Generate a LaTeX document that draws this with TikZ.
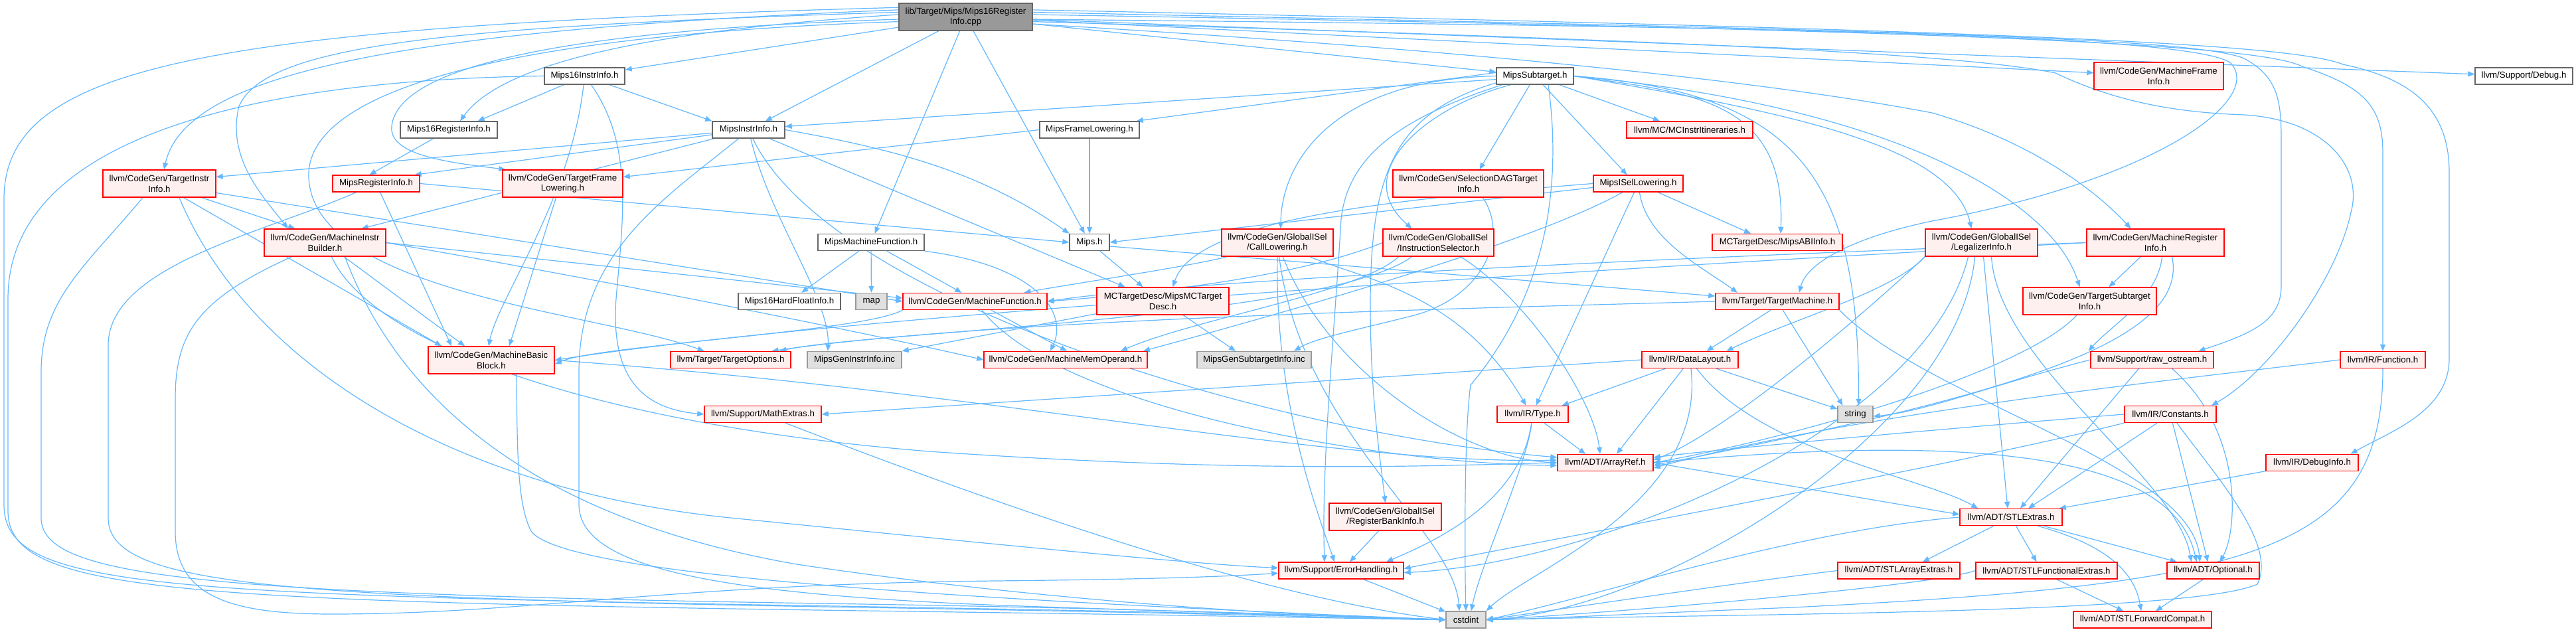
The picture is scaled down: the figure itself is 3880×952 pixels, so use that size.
\documentclass[tikz,border=0pt]{standalone}
\usepackage{fontspec}
\setmainfont{Liberation Sans}
\usetikzlibrary{arrows.meta}
\pgfdeclarelayer{bg}
\pgfsetlayers{bg,main}
\definecolor{edgec}{HTML}{63B8FF}
\definecolor{greyforty}{HTML}{666666}
\definecolor{greysixty}{HTML}{999999}
\definecolor{sysfill}{HTML}{E0E0E0}
\definecolor{pinkfill}{HTML}{FFF0F0}
\definecolor{redline}{HTML}{FF0000}
\newcommand{\dgfont}{\fontsize{13.3pt}{15.5pt}\selectfont}
\tikzset{
  eg/.style={draw=edgec, line width=1.2pt, -{Triangle[length=10pt,width=8pt]}},
  nbase/.style={rectangle, line width=1.4pt, inner sep=0pt, font=\dgfont, align=center, minimum height=25pt},
  ntall/.style={minimum height=41pt},
  nplain/.style={nbase, draw=greyforty, fill=white},
  ntrunc/.style={nbase, draw=redline, fill=pinkfill},
  nsys/.style={nbase, draw=greysixty, fill=sysfill},
  nroot/.style={nbase, draw=greyforty, fill=greysixty},
}
\begin{document}
\begin{tikzpicture}[x=1pt,y=-1pt]
\useasboundingbox (0,0) rectangle (3880,952);
\begin{pgfonlayer}{bg}
\fill[white] (0,0) rectangle (3880,952);
\end{pgfonlayer}
% nodes
\node[nroot, ntall, minimum width=201pt] (R) at (1454.5,25.5) {lib/Target/Mips/Mips16Register\\Info.cpp};
\node[nplain, minimum width=121pt] (m16ii) at (880.5,114.5) {Mips16InstrInfo.h};
\node[nplain, minimum width=146pt] (m16ri) at (676,195.5) {Mips16RegisterInfo.h};
\node[nplain, minimum width=109pt] (mii) at (1127.5,195.5) {MipsInstrInfo.h};
\node[nplain, minimum width=150pt] (mfl) at (1641,195.5) {MipsFrameLowering.h};
\node[nplain, minimum width=116pt] (mst) at (2312,114.5) {MipsSubtarget.h};
\node[ntrunc, ntall, minimum width=195pt] (mfi) at (3251.5,114.5) {llvm/CodeGen/MachineFrame\\Info.h};
\node[nplain, minimum width=147pt] (dbg) at (3801.5,114.5) {llvm/Support/Debug.h};
\node[ntrunc, ntall, minimum width=170pt] (tii) at (240,276.5) {llvm/CodeGen/TargetInstr\\Info.h};
\node[ntrunc, minimum width=131pt] (mri) at (566.5,276.5) {MipsRegisterInfo.h};
\node[ntrunc, ntall, minimum width=181pt] (tfl) at (847.5,276.5) {llvm/CodeGen/TargetFrame\\Lowering.h};
\node[ntrunc, ntall, minimum width=227pt] (sdag) at (2211.5,276.5) {llvm/CodeGen/SelectionDAGTarget\\Info.h};
\node[ntrunc, minimum width=135pt] (misel) at (2467.5,276.5) {MipsISelLowering.h};
\node[ntrunc, minimum width=190pt] (mcii) at (2545,195.5) {llvm/MC/MCInstrItineraries.h};
\node[ntrunc, ntall, minimum width=183pt] (mib) at (489.5,365.5) {llvm/CodeGen/MachineInstr\\Builder.h};
\node[nplain, minimum width=160pt] (mmf) at (1312,365) {MipsMachineFunction.h};
\node[nplain, minimum width=60pt] (mipsh) at (1641,365) {Mips.h};
\node[ntrunc, ntall, minimum width=168pt] (call) at (1924,365.5) {llvm/CodeGen/GlobalISel\\/CallLowering.h};
\node[ntrunc, ntall, minimum width=167pt] (isel) at (2166.5,365.5) {llvm/CodeGen/GlobalISel\\/InstructionSelector.h};
\node[ntrunc, minimum width=196pt] (abi) at (2677,365) {MCTargetDesc/MipsABIInfo.h};
\node[ntrunc, ntall, minimum width=169pt] (legal) at (2984.5,365.5) {llvm/CodeGen/GlobalISel\\/LegalizerInfo.h};
\node[ntrunc, ntall, minimum width=207pt] (mreg) at (3246.5,365.5) {llvm/CodeGen/MachineRegister\\Info.h};
\node[nplain, minimum width=154pt] (hf) at (1189,454) {Mips16HardFloatInfo.h};
\node[nsys, minimum width=47pt] (map) at (1312.5,454) {map};
\node[ntrunc, minimum width=217pt] (mf) at (1468.5,454) {llvm/CodeGen/MachineFunction.h};
\node[ntrunc, ntall, minimum width=199pt] (mcd) at (1751.5,453.5) {MCTargetDesc/MipsMCTarget\\Desc.h};
\node[ntrunc, minimum width=186pt] (tm) at (2677,454) {llvm/Target/TargetMachine.h};
\node[ntrunc, ntall, minimum width=201pt] (tsi) at (3147.5,453.5) {llvm/CodeGen/TargetSubtarget\\Info.h};
\node[ntrunc, ntall, minimum width=190pt] (mbb) at (740,542.5) {llvm/CodeGen/MachineBasic\\Block.h};
\node[ntrunc, minimum width=181pt] (topt) at (1100.5,542) {llvm/Target/TargetOptions.h};
\node[nsys, minimum width=142pt] (geninstr) at (1287,542) {MipsGenInstrInfo.inc};
\node[ntrunc, minimum width=246pt] (mmo) at (1605,542) {llvm/CodeGen/MachineMemOperand.h};
\node[nsys, minimum width=172pt] (gensub) at (1889,542) {MipsGenSubtargetInfo.inc};
\node[ntrunc, minimum width=145pt] (dl) at (2545.5,542) {llvm/IR/DataLayout.h};
\node[ntrunc, minimum width=185pt] (ros) at (3241.5,542) {llvm/Support/raw\_ostream.h};
\node[ntrunc, minimum width=128pt] (func) at (3589,542) {llvm/IR/Function.h};
\node[ntrunc, minimum width=176pt] (mext) at (1149,624) {llvm/Support/MathExtras.h};
\node[ntrunc, minimum width=107pt] (type) at (2308.5,624) {llvm/IR/Type.h};
\node[nsys, minimum width=53pt] (str) at (2794.5,624) {string};
\node[ntrunc, minimum width=138pt] (cons) at (3269,624) {llvm/IR/Constants.h};
\node[ntrunc, minimum width=144pt] (aref) at (2418,697) {llvm/ADT/ArrayRef.h};
\node[ntrunc, minimum width=139pt] (dinfo) at (3482.5,697) {llvm/IR/DebugInfo.h};
\node[ntrunc, ntall, minimum width=169pt] (rbi) at (2086.5,778.5) {llvm/CodeGen/GlobalISel\\/RegisterBankInfo.h};
\node[ntrunc, minimum width=154pt] (stle) at (3029,779) {llvm/ADT/STLExtras.h};
\node[ntrunc, minimum width=188pt] (eh) at (2020,859.5) {llvm/Support/ErrorHandling.h};
\node[ntrunc, minimum width=184pt] (stlae) at (2860,859.5) {llvm/ADT/STLArrayExtras.h};
\node[ntrunc, minimum width=213pt] (stlfe) at (3082.5,859.5) {llvm/ADT/STLFunctionalExtras.h};
\node[ntrunc, minimum width=139pt] (opt) at (3333.5,859.5) {llvm/ADT/Optional.h};
\node[nsys, minimum width=60pt] (cstd) at (2208,933.5) {cstdint};
\node[ntrunc, minimum width=208pt] (stlfc) at (3227,933.5) {llvm/ADT/STLForwardCompat.h};

\begin{pgfonlayer}{bg}
% root
\draw[eg] (R) -- (m16ii);
\draw[eg] (R.178) .. controls (1000,45) and (760,90) .. ([xshift=17pt]m16ri.north);
\draw[eg] (R) -- (mii);
\draw[eg] (R) -- (mmf);
\draw[eg] (R) -- (mipsh);
\draw[eg] (R) -- (mst);
\draw[eg] (R) -- (mfi);
\draw[eg] (R) -- (dbg);
\draw[eg] (R.174) .. controls (600,45) and (280,110) .. ([xshift=7pt]tii.north);
\draw[eg] (R.182) .. controls (850,45) and (600,100) .. (590,190) .. controls (585,235) and (680,245) .. ([xshift=5pt]tfl.north west);
\draw[eg] (R.176) .. controls (650,40) and (400,70) .. (360,160) .. controls (340,240) and (400,300) .. ([xshift=-56pt]mib.north);
\draw[eg] (R.184) .. controls (700,55) and (470,150) .. (465,260) .. controls (460,440) and (900,470) .. ([xshift=-40pt]topt.north);
\draw[eg] (R.172) .. controls (300,40) and (6,100) .. (6,300) -- (6,760) .. controls (6,880) and (200,895) .. (1200,912) .. controls (1800,922) and (2100,930) .. (cstd.west);
\draw[eg] (R.-6) .. controls (2300,80) and (2700,130) .. (2910,170) .. controls (3050,210) and (3150,280) .. ([xshift=-37pt]mreg.north);
\draw[eg] (R.-2) .. controls (2600,40) and (3300,50) .. (3360,95) .. controls (3410,150) and (3250,270) .. (2910,333) .. controls (2780,360) and (2720,400) .. ([xshift=33pt]tm.north);
\draw[eg] (R.2) .. controls (2900,45) and (3400,65) .. (3467,100) .. controls (3560,130) and (3589,160) .. (3589,230) -- (func.north);
\draw[eg] (R.6) .. controls (3000,45) and (3450,65) .. (3529,97) .. controls (3640,120) and (3689,170) .. (3689,260) -- (3689,540) .. controls (3689,620) and (3600,650) .. ([xshift=58pt]dinfo.north);
\draw[eg] (R.-4) .. controls (2500,60) and (2950,80) .. (3096,110) .. controls (3200,160) and (3300,170) .. (3380,173) .. controls (3500,180) and (3560,250) .. (3541,320) .. controls (3520,420) and (3420,560) .. ([xshift=62pt]cons.north);
\draw[eg] (R.4) .. controls (2800,45) and (3300,55) .. (3380,88) .. controls (3430,115) and (3436,150) .. (3436,210) -- (3436,430) .. controls (3436,480) and (3400,500) .. ([xshift=70pt]ros.north);
% m16ii
\draw[eg] (m16ii) -- ([xshift=-30pt]m16ri.north east);
\draw[eg] (m16ii) -- (mii.north west);
\draw[eg] (m16ii) .. controls (860,300) and (750,450) .. ([xshift=-4pt]mbb.north);
\draw[eg] ([xshift=10pt]m16ii.south) .. controls (955,220) and (938,330) .. (928,450) .. controls (920,560) and (960,615) .. (mext.west);
\draw[eg] (m16ii.west) .. controls (400,120) and (12,200) .. (12,450) -- (12,770) .. controls (12,890) and (250,905) .. (1300,920) .. controls (1900,928) and (2100,933) .. (cstd.west);
% m16ri
\draw[eg] (m16ri) -- ([xshift=-10pt]mri.north);
% mii
\draw[eg] (mii) -- ([yshift=10pt]tii.east);
\draw[eg] (mii) -- ([xshift=-8pt]mri.north east);
\draw[eg] (mii) -- ([xshift=55pt]mib.north);
\draw[eg] (mii.east) .. controls (1350,225) and (1480,260) .. (mipsh.north west);
\draw[eg] (mii) -- ([xshift=-57pt]mcd.north);
\draw[eg] (mii) .. controls (1160,330) and (1250,450) .. ([xshift=-40pt]geninstr.north);
\draw[eg] (mii) .. controls (1250,450) and (1900,650) .. ([yshift=8pt]aref.west);
\draw[eg] ([xshift=-15pt]mii.south) .. controls (1000,300) and (872,380) .. (872,560) -- (872,760) .. controls (872,860) and (1100,900) .. (1600,915) .. controls (1900,925) and (2100,930) .. (cstd.west);
% mfl
\draw[eg] (mfl.west) -- ([yshift=10pt]tfl.east);
\draw[eg] (mfl) -- (mipsh);
% mri
\draw[eg] (mri.east) -- (mipsh.west);
\draw[eg] (mri) -- ([xshift=-60pt]mbb.north);
\draw[eg] ([xshift=-30pt]mri.south) .. controls (400,350) and (163,400) .. (163,520) -- (163,780) .. controls (163,880) and (400,900) .. (1300,915) .. controls (1900,925) and (2100,933) .. (cstd.west);
% tii
\draw[eg] (tii) -- ([xshift=-45pt]mib.north);
\draw[eg] (tii) -- ([xshift=-75pt]mbb.north);
\draw[eg] ([yshift=-14pt]tii.east) -- (mf.west);
\draw[eg] ([xshift=-25pt]tii.south) .. controls (130,400) and (62,450) .. (62,560) -- (62,780) .. controls (62,870) and (300,895) .. (1300,910) .. controls (1900,920) and (2100,933) .. (cstd.west);
\draw[eg] ([xshift=30pt]tii.south) .. controls (380,560) and (700,740) .. (1100,780) .. controls (1500,820) and (1800,850) .. ([yshift=4pt]eh.west);
% mib
\draw[eg] (mib) -- ([xshift=-40pt]mbb.north);
\draw[eg] (mib.east) -- ([yshift=5pt]mf.west);
\draw[eg] ([xshift=-50pt]mib.south) .. controls (300,450) and (264,500) .. (264,600) -- (264,800) .. controls (264,900) and (350,925) .. (500,925) .. controls (800,925) and (1000,880) .. (1500,875) .. controls (1800,872) and (1880,866) .. ([yshift=-4pt]eh.west);
\draw[eg] ([xshift=30pt]mib.south) .. controls (600,600) and (800,780) .. (1200,850) .. controls (1600,910) and (2000,930) .. (cstd.west);
\draw[eg] ([xshift=10pt]mib.south) .. controls (560,520) and (900,640) .. (1400,680) .. controls (1900,715) and (2200,700) .. (aref.west);
\draw[eg] (mib.east) .. controls (900,420) and (1300,500) .. (mmo.west);
% tfl
\draw[eg] ([xshift=-10pt]tfl.south) -- ([xshift=27pt]mbb.north);
% mmf
\draw[eg] (mmf) -- (hf);
\draw[eg] (mmf) -- (map);
\draw[eg] (mmf) -- ([xshift=-20pt]mf.north);
\draw[eg] (mmf.south east) .. controls (1560,400) and (1610,470) .. ([xshift=-23pt]mmo.north);
% mipsh
\draw[eg] (mipsh) -- ([xshift=-30pt]mcd.north);
\draw[eg] ([yshift=-6pt]mipsh.east) -- ([yshift=8pt]tm.west);
% mst
\draw[eg] (mst.175) -- ([xshift=-5pt]mfl.north east);
\draw[eg] (mst.185) -- ([yshift=5pt]mii.east);
\draw[eg] (mst) -- ([xshift=-17pt]misel.north);
\draw[eg] (mst) -- ([xshift=-45pt]mcii.north);
\draw[eg] (mst) -- ([xshift=17pt]sdag.north);
\draw[eg] (mst.180) .. controls (2000,120) and (1930,250) .. ([xshift=5pt]call.north);
\draw[eg] (mst.200) .. controls (2150,160) and (2030,260) .. ([xshift=-40pt]isel.north);
\draw[eg] (mst.190) .. controls (2100,170) and (2064,260) .. (2064,460) .. controls (2064,600) and (2080,700) .. (rbi.north);
\draw[eg] (mst.east) .. controls (2700,170) and (2940,220) .. ([xshift=-15pt]legal.north);
\draw[eg] (mst.east) .. controls (2850,160) and (3090,300) .. ([xshift=-15pt]tsi.north);
\draw[eg] (mst.east) .. controls (2550,140) and (2690,150) .. ([xshift=5pt]abi.north);
\draw[eg] (mst.east) .. controls (2720,140) and (2800,280) .. ([xshift=5pt]str.north);
\draw[eg] (mst.195) .. controls (2100,180) and (2030,240) .. (2020,330) .. controls (2010,500) and (1990,700) .. ([xshift=-25pt]eh.north);
\draw[eg] ([xshift=20pt]mst.south) .. controls (2350,260) and (2340,430) .. (2215,580) .. controls (2205,650) and (2206,850) .. (cstd.north);
% misel
\draw[eg] (misel) -- ([xshift=-40pt]abi.north);
\draw[eg] (misel.185) -- (mipsh.east);
\draw[eg] (misel.west) .. controls (2100,300) and (1800,330) .. ([xshift=15pt]mcd.north);
\draw[eg] (misel) .. controls (2300,370) and (1900,480) .. ([xshift=117pt]mmo.north);
\draw[eg] (misel) -- ([xshift=5pt]type.north);
\draw[eg] (misel) .. controls (2480,360) and (2560,400) .. ([xshift=-60pt]tm.north);
% sdag
\draw[eg] ([xshift=22pt]sdag.south) .. controls (2275,360) and (2230,450) .. (2126,476) .. controls (2030,500) and (1980,510) .. ([xshift=60pt]gensub.north);
% mcd
\draw[eg] (mcd) -- (geninstr.north east);
\draw[eg] (mcd) -- ([xshift=-28pt]gensub.north);
% call
\draw[eg] (call) .. controls (1800,400) and (1600,430) .. ([xshift=74pt]mf.north);
\draw[eg] (call) .. controls (2050,420) and (2200,440) .. ([xshift=-10pt]type.north);
\draw[eg] (call) .. controls (2000,560) and (2200,690) .. (aref.west);
\draw[eg] (call.south) .. controls (1920,600) and (1980,760) .. ([xshift=-10pt]eh.north);
\draw[eg] (call) .. controls (1960,650) and (2190,800) .. ([xshift=-10pt]cstd.north);
% isel
\draw[eg] (isel.west) .. controls (1950,420) and (1700,445) .. (mf.east);
\draw[eg] (isel) .. controls (2300,450) and (2400,600) .. ([xshift=-8pt]aref.north);
\draw[eg] ([xshift=-40pt]isel.south) .. controls (2000,480) and (1300,500) .. ([xshift=74pt]topt.north);
\draw[eg] ([xshift=-60pt]isel.south) .. controls (2050,440) and (1800,480) .. ([xshift=83pt]mmo.north);
% legal
\draw[eg] ([xshift=3pt]legal.south) -- ([xshift=-5pt]stle.north);
\draw[eg] ([xshift=15pt]legal.south) .. controls (3010,550) and (3280,720) .. ([xshift=-33pt]opt.north);
\draw[eg] (legal.south west) .. controls (2800,480) and (2600,650) .. ([yshift=4pt]aref.east);
\draw[eg] (legal.south west) .. controls (2850,440) and (2700,480) .. ([xshift=55pt]dl.north);
\draw[eg] ([xshift=-20pt]legal.south) .. controls (2900,650) and (2400,850) .. ([yshift=-3pt]eh.east);
\draw[eg] ([xshift=-10pt]legal.south) .. controls (2950,650) and (2500,920) .. (cstd.east);
% mreg
\draw[eg] (mreg.west) .. controls (2600,385) and (1800,420) .. (mf.east);
\draw[eg] (mreg.west) .. controls (2500,400) and (1300,470) .. (mbb.east);
\draw[eg] (mreg) -- ([xshift=29pt]tsi.north);
\draw[eg] ([xshift=10pt]mreg.south) .. controls (3250,450) and (3180,490) .. ([xshift=-96pt]ros.north);
\draw[eg] ([xshift=25pt]mreg.south) .. controls (3300,520) and (3000,600) .. ([yshift=-4pt]aref.east);
% tsi
\draw[eg] (tsi) .. controls (3050,560) and (2700,660) .. (aref.east);
% tm
\draw[eg] ([xshift=-10pt]tm.south) -- ([xshift=25pt]dl.north);
\draw[eg] (tm) -- ([xshift=-19pt]str.north);
\draw[eg] (tm.west) .. controls (2200,465) and (1500,480) .. ([xshift=62pt]topt.north);
\draw[eg] (tm.south east) .. controls (2900,600) and (3300,700) .. ([xshift=-20pt]opt.north);
% dl
\draw[eg] (dl.west) -- (mext.east);
\draw[eg] (dl) -- ([xshift=-10pt]type.north east);
\draw[eg] (dl) -- ([xshift=17pt]aref.north);
\draw[eg] (dl) -- ([yshift=8pt]str.west);
\draw[eg] (dl) .. controls (2650,680) and (2900,720) .. ([xshift=-50pt]stle.north);
\draw[eg] (dl) .. controls (2570,760) and (2300,860) .. (cstd.north east);
% type
\draw[eg] (type) -- ([xshift=-30pt]aref.north);
\draw[eg] (type) .. controls (2290,760) and (2150,820) .. ([xshift=68pt]eh.north);
\draw[eg] (type) .. controls (2300,700) and (2230,850) .. ([xshift=8pt]cstd.north);
% aref
\draw[eg] (aref.east) -- ([yshift=4pt]stle.west);
\draw[eg] (aref.east) .. controls (3100,640) and (3280,720) .. ([xshift=-25pt]opt.north);
% ros
\draw[eg] (ros.west) .. controls (3000,580) and (2900,620) .. ([yshift=-3pt]str.east);
\draw[eg] ([xshift=-20pt]ros.south) -- ([xshift=14pt]stle.north);
\draw[eg] ([xshift=30pt]ros.south) .. controls (3380,650) and (3370,800) .. ([xshift=10pt]opt.north);
% func
\draw[eg] (func.west) .. controls (3300,570) and (2800,620) .. ([yshift=-8pt]aref.east);
\draw[eg] (func.south) .. controls (3589,830) and (3400,880) .. (2700,915) .. controls (2450,925) and (2300,933) .. (cstd.east);
% cons
\draw[eg] (cons.west) .. controls (3000,640) and (2650,670) .. ([yshift=8pt]aref.east);
\draw[eg] (cons) -- ([xshift=26pt]stle.north);
\draw[eg] (cons) -- ([xshift=-8pt]opt.north);
\draw[eg] (cons) .. controls (3340,720) and (3430,820) .. (3400,880) .. controls (3300,925) and (2600,925) .. (cstd.east);
\draw[eg] (cons.south west) .. controls (2950,700) and (2400,800) .. ([yshift=3pt]eh.east);
% dinfo
\draw[eg] (dinfo) -- ([xshift=-5pt]stle.north east);
% rbi
\draw[eg] ([xshift=-10pt]rbi.south) -- ([xshift=13pt]eh.north);
% stle
\draw[eg] (stle) -- ([xshift=36pt]stlae.north);
\draw[eg] (stle) -- ([xshift=-15pt]stlfe.north);
\draw[eg] (stle) -- ([xshift=-55pt]opt.north);
\draw[eg] ([xshift=40pt]stle.south) .. controls (3170,820) and (3215,860) .. ([xshift=-2pt]stlfc.north);
\draw[eg] (stle.west) .. controls (2700,800) and (2400,900) .. (cstd.east);
% stlfe
\draw[eg] ([xshift=15pt]stlfe.south) -- ([xshift=-29pt]stlfc.north);
\draw[eg] (stlfe.west) .. controls (2900,885) and (2400,925) .. (cstd.east);
% opt
\draw[eg] ([xshift=-15pt]opt.south) -- ([xshift=20pt]stlfc.north);
% stlae
\draw[eg] (stlae.west) .. controls (2600,880) and (2300,925) .. (cstd.east);
% eh
\draw[eg] (eh) -- (cstd);
% mbb
\draw[eg] ([xshift=38pt]mbb.south) .. controls (779,680) and (779,760) .. (800,800) .. controls (850,870) and (1500,905) .. (cstd.west);
\draw[eg] (mbb.east) .. controls (1500,590) and (2000,700) .. ([yshift=4pt]aref.west);
% mf
\draw[eg] (mf.south west) .. controls (1300,500) and (900,520) .. ([yshift=-6pt]mbb.east);
\draw[eg] (mf) -- ([xshift=2pt]mmo.north);
\draw[eg] (mf) .. controls (1600,620) and (2100,700) .. ([yshift=-4pt]aref.west);
% mext
\draw[eg] (mext) .. controls (1500,760) and (1900,900) .. (cstd.west);
\end{pgfonlayer}
\end{tikzpicture}
\end{document}
